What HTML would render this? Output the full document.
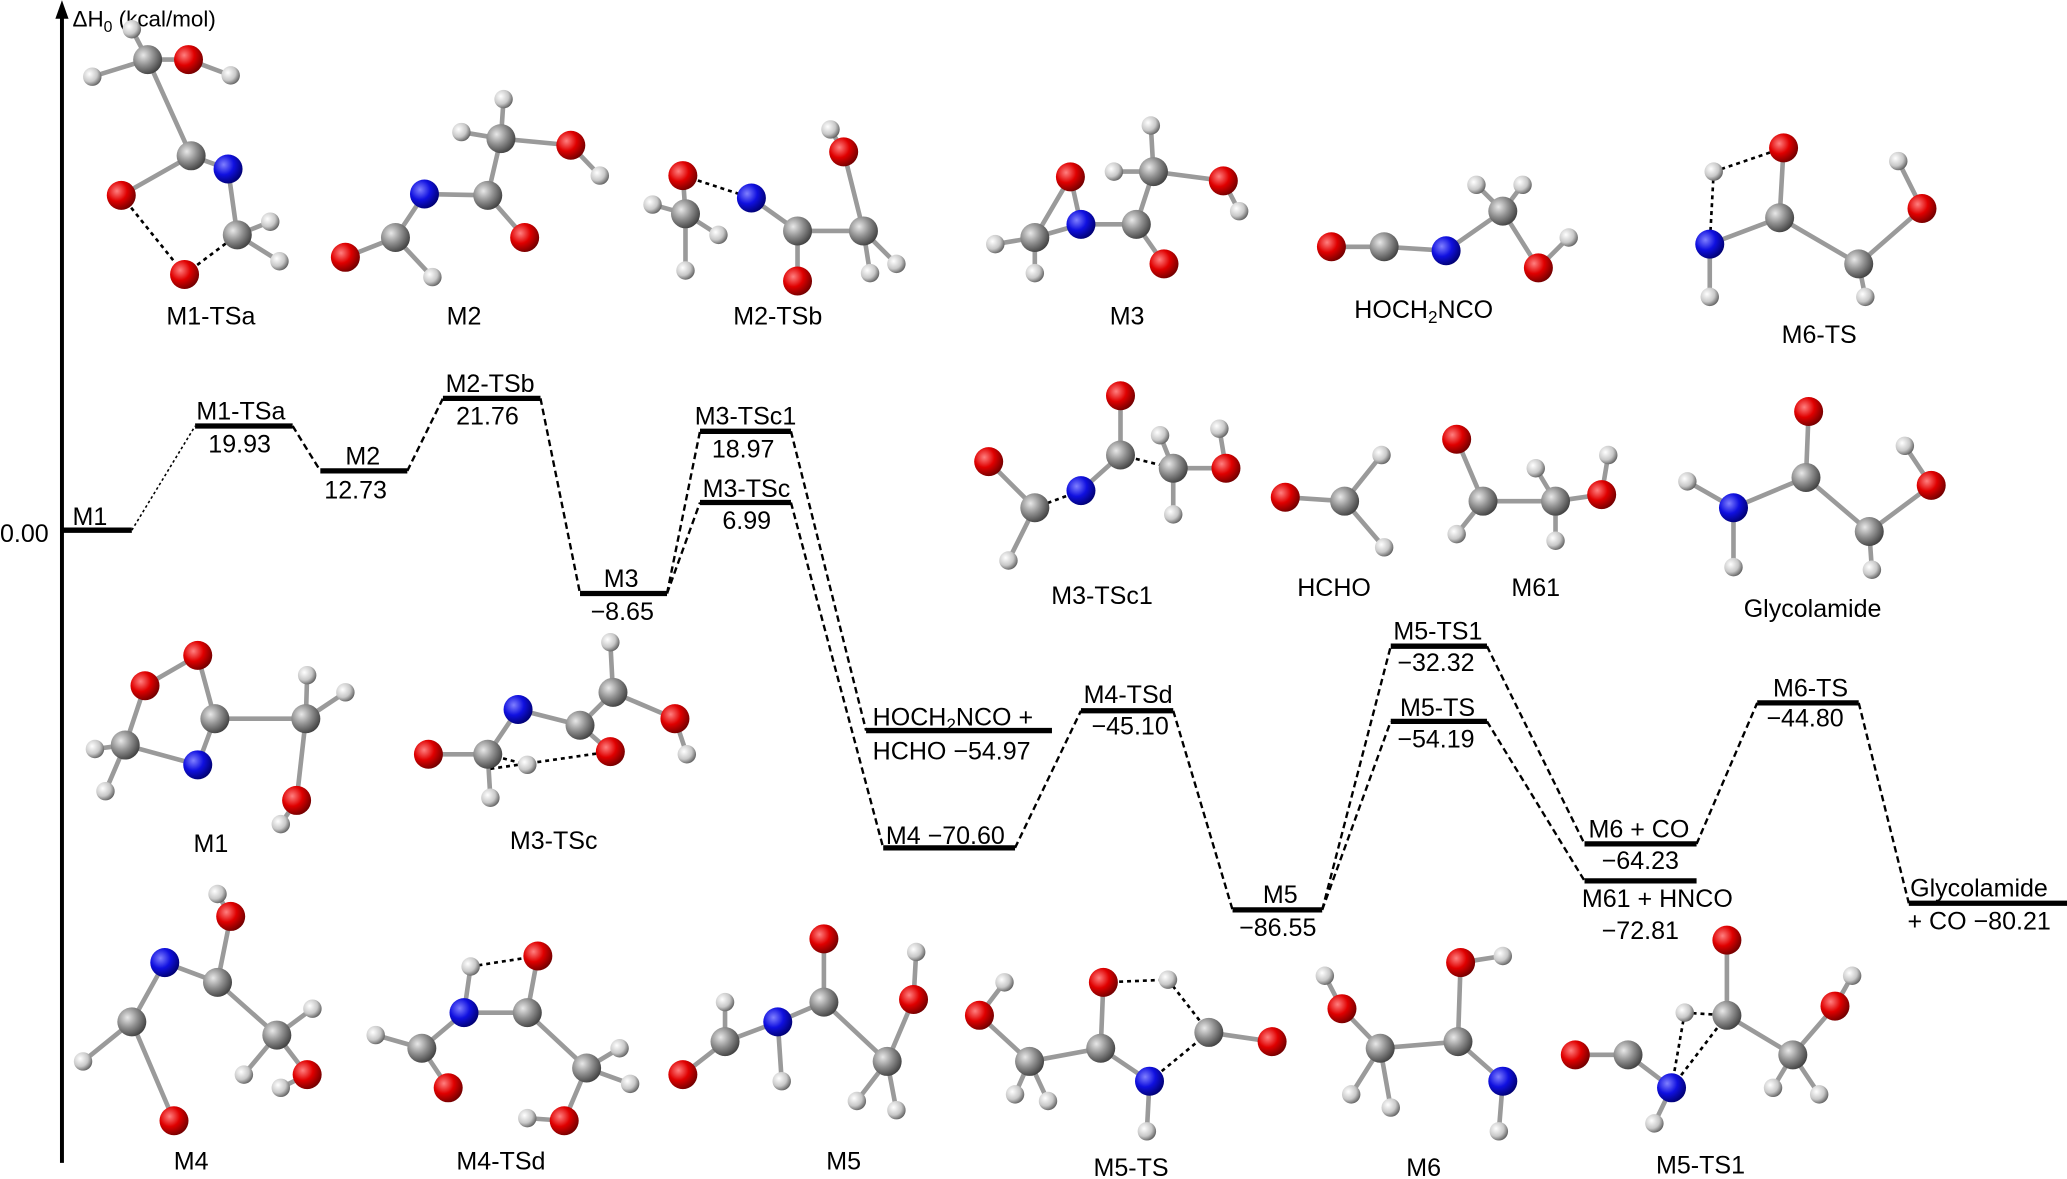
<!DOCTYPE html>
<html><head><meta charset="utf-8"><style>
html,body{margin:0;padding:0;background:#fff}
svg{display:block}
text{font-family:"Liberation Sans Narrow","Liberation Sans",sans-serif;fill:#000}
</style></head><body>
<svg width="2067" height="1179" viewBox="0 0 1568 894" xmlns="http://www.w3.org/2000/svg">
<defs>
<radialGradient id="gr" cx="0.35" cy="0.35" r="0.7"><stop offset="0" stop-color="#ff8080"/><stop offset="0.5" stop-color="#e00000"/><stop offset="1" stop-color="#700000"/></radialGradient>
<radialGradient id="gb" cx="0.35" cy="0.35" r="0.7"><stop offset="0" stop-color="#8080ff"/><stop offset="0.5" stop-color="#1010e0"/><stop offset="1" stop-color="#000070"/></radialGradient>
<radialGradient id="gc" cx="0.35" cy="0.35" r="0.7"><stop offset="0" stop-color="#e8e8e8"/><stop offset="0.5" stop-color="#909090"/><stop offset="1" stop-color="#404040"/></radialGradient>
<radialGradient id="gh" cx="0.35" cy="0.35" r="0.7"><stop offset="0" stop-color="#ffffff"/><stop offset="0.6" stop-color="#c8c8c8"/><stop offset="1" stop-color="#606060"/></radialGradient>
<symbol id="O" overflow="visible"><circle r="11" fill="url(#gr)"/></symbol>
<symbol id="N" overflow="visible"><circle r="11" fill="url(#gb)"/></symbol>
<symbol id="C" overflow="visible"><circle r="11" fill="url(#gc)"/></symbol>
<symbol id="H" overflow="visible"><circle r="7" fill="url(#gh)"/></symbol>
</defs>

<!-- axis -->
<line x1="47" y1="12" x2="47" y2="882" stroke="#000" stroke-width="3"/>
<polygon points="47,0 42,14 52,14" fill="#000"/>
<text x="55" y="20" font-size="17">ΔH<tspan font-size="12" dy="4">0</tspan><tspan dy="-4"> (kcal/mol)</tspan></text>
<text x="0" y="411" font-size="19">0.00</text>

<!-- levels -->
<g stroke="#000" stroke-width="4">
<line x1="48" y1="402" x2="100" y2="402"/>
<line x1="148" y1="323" x2="222" y2="323"/>
<line x1="243" y1="357" x2="309" y2="357"/>
<line x1="336" y1="302" x2="410" y2="302"/>
<line x1="440" y1="450" x2="506" y2="450"/>
<line x1="531" y1="327" x2="600" y2="327"/>
<line x1="531" y1="381" x2="600" y2="381"/>
<line x1="657" y1="554" x2="798" y2="554"/>
<line x1="670" y1="643" x2="770" y2="643"/>
<line x1="820" y1="539" x2="890" y2="539"/>
<line x1="935" y1="690" x2="1003" y2="690"/>
<line x1="1055" y1="490" x2="1128" y2="490"/>
<line x1="1055" y1="547" x2="1128" y2="547"/>
<line x1="1202" y1="640" x2="1287" y2="640"/>
<line x1="1202" y1="668" x2="1287" y2="668"/>
<line x1="1333" y1="533" x2="1410" y2="533"/>
<line x1="1448" y1="685" x2="1568" y2="685"/>
</g>
<!-- connectors -->
<line x1="100" y1="402" x2="148" y2="323" stroke="#000" stroke-width="1.2" stroke-dasharray="2,2"/>
<g stroke="#000" stroke-width="1.8" stroke-dasharray="5,3" fill="none">
<line x1="222" y1="323" x2="243" y2="357"/>
<line x1="309" y1="357" x2="336" y2="302"/>
<line x1="410" y1="302" x2="440" y2="450"/>
<line x1="506" y1="450" x2="531" y2="327"/>
<line x1="506" y1="450" x2="531" y2="381"/>
<line x1="600" y1="327" x2="657" y2="554"/>
<line x1="600" y1="381" x2="670" y2="643"/>
<line x1="770" y1="643" x2="820" y2="539"/>
<line x1="890" y1="539" x2="935" y2="690"/>
<line x1="1003" y1="690" x2="1055" y2="490"/>
<line x1="1003" y1="690" x2="1055" y2="547"/>
<line x1="1128" y1="490" x2="1202" y2="640"/>
<line x1="1128" y1="547" x2="1202" y2="668"/>
<line x1="1287" y1="640" x2="1333" y2="533"/>
<line x1="1410" y1="533" x2="1448" y2="685"/>
</g>
<!-- level labels -->
<g font-size="19">
<text x="55" y="398">M1</text>
<text x="149" y="318">M1-TSa</text><text x="158" y="343">19.93</text>
<text x="262" y="352">M2</text><text x="246" y="378">12.73</text>
<text x="338" y="297">M2-TSb</text><text x="346" y="322">21.76</text>
<text x="458" y="445">M3</text><text x="448" y="470">−8.65</text>
<text x="527" y="322">M3-TSc1</text><text x="540" y="347">18.97</text>
<text x="533" y="377">M3-TSc</text><text x="548" y="401">6.99</text>
<text x="662" y="550">HOCH<tspan font-size="13" dy="4">2</tspan><tspan dy="-4">NCO +</tspan></text>
<text x="662" y="576">HCHO −54.97</text>
<text x="672" y="640">M4 −70.60</text>
<text x="822" y="533">M4-TSd</text><text x="828" y="557">−45.10</text>
<text x="958" y="685">M5</text><text x="940" y="710">−86.55</text>
<text x="1057" y="485">M5-TS1</text><text x="1060" y="509">−32.32</text>
<text x="1062" y="543">M5-TS</text><text x="1060" y="567">−54.19</text>
<text x="1205" y="635">M6 + CO</text><text x="1215" y="659">−64.23</text>
<text x="1200" y="688">M61 + HNCO</text><text x="1215" y="712">−72.81</text>
<text x="1345" y="528">M6-TS</text><text x="1340" y="551">−44.80</text>
<text x="1449" y="680">Glycolamide</text><text x="1447" y="705">+ CO −80.21</text>
</g>
<!-- molecule labels -->
<g font-size="19" text-anchor="middle">
<text x="160" y="246">M1-TSa</text><text x="352" y="246">M2</text><text x="590" y="246">M2-TSb</text>
<text x="855" y="246">M3</text>
<text x="1080" y="241">HOCH<tspan font-size="13" dy="4">2</tspan><tspan dy="-4">NCO</tspan></text>
<text x="1380" y="260">M6-TS</text><text x="836" y="458">M3-TSc1</text><text x="1012" y="452">HCHO</text>
<text x="1165" y="452">M61</text><text x="1375" y="468">Glycolamide</text>
<text x="160" y="646">M1</text><text x="420" y="644">M3-TSc</text>
<text x="145" y="887">M4</text><text x="380" y="887">M4-TSd</text><text x="640" y="887">M5</text>
<text x="858" y="892">M5-TS</text><text x="1080" y="892">M6</text><text x="1290" y="890">M5-TS1</text>
</g>

<!-- bonds -->
<g stroke="#9a9a9a" stroke-width="3.5" stroke-linecap="round">
<!-- M1-TSa -->
<path d="M112,45L143,45M112,45L70,58M112,45L100,22M143,45L175,57M112,45L145,118M145,118L92,148M145,118L173,128M173,128L180,178M180,178L205,168M180,178L212,198"/>
<!-- M2 -->
<path d="M300,180L262,195M300,180L328,210M300,180L322,147M322,147L370,148M370,148L398,180M370,148L380,105M380,105L382,75M380,105L350,100M380,105L433,110M433,110L455,133"/>
<!-- M2-TSb -->
<path d="M518,133L520,162M520,162L495,155M520,162L520,205M520,162L545,178M570,150L605,175M605,175L605,213M605,175L655,175M655,175L640,115M640,115L630,98M655,175L680,200M655,175L660,207"/>
<!-- M3 -->
<path d="M812,134L820,170M812,134L785,180M820,170L785,180M785,180L755,185M785,180L785,207M820,170L862,170M862,170L883,200M862,170L875,130M875,130L873,95M875,130L845,130M875,130L928,137M928,137L940,160"/>
<!-- HOCH2NCO -->
<path d="M1010,187L1050,187M1050,187L1097,190M1097,190L1140,160M1140,160L1120,140M1140,160L1155,140M1140,160L1167,203M1167,203L1190,180"/>
<!-- M6-TS -->
<path d="M1353,112L1350,165M1350,165L1297,185M1297,185L1297,225M1350,165L1410,200M1410,200L1415,225M1410,200L1458,158M1458,158L1440,122"/>
<!-- M3-TSc1 -->
<path d="M850,300L850,345M850,345L820,372M785,385L750,350M785,385L765,425M890,355L880,330M890,355L930,355M930,355L925,325M890,355L890,390"/>
<!-- HCHO -->
<path d="M975,377L1020,380M1020,380L1048,345M1020,380L1050,415"/>
<!-- M61 -->
<path d="M1105,333L1125,380M1125,380L1180,380M1125,380L1105,405M1180,380L1165,355M1180,380L1180,410M1180,380L1215,375M1215,375L1220,345"/>
<!-- Glycolamide -->
<path d="M1372,312L1370,362M1370,362L1315,385M1315,385L1280,365M1315,385L1315,430M1370,362L1418,403M1418,403L1420,432M1418,403L1465,368M1465,368L1445,338"/>
<!-- M1 -->
<path d="M110,520L150,497M110,520L95,565M150,497L163,545M163,545L150,580M150,580L95,565M95,565L72,568M95,565L80,600M163,545L232,545M232,545L233,512M232,545L262,525M232,545L225,607M225,607L213,625"/>
<!-- M3-TSc -->
<path d="M393,538L440,550M440,550L465,525M465,525L463,487M465,525L512,545M512,545L521,572M440,550L463,570M393,538L370,572M370,572L325,572M370,572L372,605"/>
<!-- M4 -->
<path d="M175,695L165,678M175,695L165,745M165,745L125,730M125,730L100,775M100,775L63,805M100,775L132,850M165,745L210,785M210,785L237,765M210,785L185,815M210,785L233,815M233,815L213,825"/>
<!-- M4-TSd -->
<path d="M408,725L400,768M400,768L352,768M352,768L357,733M352,768L320,795M320,795L285,785M320,795L340,825M400,768L445,810M445,810L470,795M445,810L478,822M445,810L428,850M428,850L400,848"/>
<!-- M5 -->
<path d="M625,712L625,760M625,760L590,775M590,775L593,820M590,775L550,790M550,790L550,760M550,790L518,815M625,760L673,805M673,805L693,758M693,758L695,722M673,805L650,835M673,805L680,842"/>
<!-- M5-TS -->
<path d="M837,745L835,795M835,795L872,820M872,820L870,858M835,795L781,805M781,805L743,770M743,770L762,745M781,805L770,830M781,805L795,835M917,783L965,790"/>
<!-- M6 -->
<path d="M1108,730L1140,725M1108,730L1106,790M1106,790L1140,820M1140,820L1137,858M1106,790L1047,795M1047,795L1018,765M1018,765L1005,740M1047,795L1025,830M1047,795L1055,840"/>
<!-- M5-TS1 -->
<path d="M1310,713L1310,770M1310,770L1360,800M1268,825L1255,852M1268,825L1235,800M1235,800L1195,800M1360,800L1345,825M1360,800L1380,830M1360,800L1392,763M1392,763L1405,740"/>
</g>
<!-- dashed interactions -->
<g stroke="#000" stroke-width="2" stroke-dasharray="3,3">
<path d="M92,148L140,208M140,208L180,178"/>
<path d="M518,133L570,150"/>
<path d="M820,372L785,385M850,345L890,355"/>
<path d="M372,583L463,570M370,572L400,580"/>
<path d="M357,733L408,725"/>
<path d="M837,745L886,743M886,743L917,783M872,820L917,783"/>
<path d="M1300,130L1353,112M1300,130L1297,185"/>
<path d="M1278,768L1310,770M1278,768L1268,825M1268,825L1310,770"/>
</g>

<!-- atoms -->
<!-- M1-TSa -->
<use href="#C" x="112" y="45"/><use href="#H" x="70" y="58"/><use href="#H" x="100" y="22"/><use href="#O" x="143" y="45"/><use href="#H" x="175" y="57"/>
<use href="#C" x="145" y="118"/><use href="#O" x="92" y="148"/><use href="#N" x="173" y="128"/><use href="#C" x="180" y="178"/><use href="#H" x="205" y="168"/><use href="#H" x="212" y="198"/><use href="#O" x="140" y="208"/>
<!-- M2 -->
<use href="#C" x="300" y="180"/><use href="#O" x="262" y="195"/><use href="#H" x="328" y="210"/><use href="#N" x="322" y="147"/><use href="#C" x="370" y="148"/><use href="#O" x="398" y="180"/><use href="#C" x="380" y="105"/><use href="#H" x="382" y="75"/><use href="#H" x="350" y="100"/><use href="#O" x="433" y="110"/><use href="#H" x="455" y="133"/>
<!-- M2-TSb -->
<use href="#O" x="518" y="133"/><use href="#C" x="520" y="162"/><use href="#H" x="495" y="155"/><use href="#H" x="520" y="205"/><use href="#H" x="545" y="178"/><use href="#N" x="570" y="150"/><use href="#C" x="605" y="175"/><use href="#O" x="605" y="213"/><use href="#C" x="655" y="175"/><use href="#O" x="640" y="115"/><use href="#H" x="630" y="98"/><use href="#H" x="680" y="200"/><use href="#H" x="660" y="207"/>
<!-- M3 -->
<use href="#O" x="812" y="134"/><use href="#C" x="785" y="180"/><use href="#H" x="755" y="185"/><use href="#H" x="785" y="207"/><use href="#N" x="820" y="170"/><use href="#C" x="862" y="170"/><use href="#O" x="883" y="200"/><use href="#C" x="875" y="130"/><use href="#H" x="873" y="95"/><use href="#H" x="845" y="130"/><use href="#O" x="928" y="137"/><use href="#H" x="940" y="160"/>
<!-- HOCH2NCO -->
<use href="#O" x="1010" y="187"/><use href="#C" x="1050" y="187"/><use href="#N" x="1097" y="190"/><use href="#C" x="1140" y="160"/><use href="#H" x="1120" y="140"/><use href="#H" x="1155" y="140"/><use href="#O" x="1167" y="203"/><use href="#H" x="1190" y="180"/>
<!-- M6-TS -->
<use href="#O" x="1353" y="112"/><use href="#H" x="1300" y="130"/><use href="#C" x="1350" y="165"/><use href="#N" x="1297" y="185"/><use href="#H" x="1297" y="225"/><use href="#C" x="1410" y="200"/><use href="#H" x="1415" y="225"/><use href="#O" x="1458" y="158"/><use href="#H" x="1440" y="122"/>
<!-- M3-TSc1 -->
<use href="#O" x="850" y="300"/><use href="#C" x="850" y="345"/><use href="#N" x="820" y="372"/><use href="#O" x="750" y="350"/><use href="#C" x="785" y="385"/><use href="#H" x="765" y="425"/><use href="#C" x="890" y="355"/><use href="#H" x="880" y="330"/><use href="#O" x="930" y="355"/><use href="#H" x="925" y="325"/><use href="#H" x="890" y="390"/>
<!-- HCHO -->
<use href="#O" x="975" y="377"/><use href="#C" x="1020" y="380"/><use href="#H" x="1048" y="345"/><use href="#H" x="1050" y="415"/>
<!-- M61 -->
<use href="#O" x="1105" y="333"/><use href="#C" x="1125" y="380"/><use href="#H" x="1105" y="405"/><use href="#C" x="1180" y="380"/><use href="#H" x="1165" y="355"/><use href="#H" x="1180" y="410"/><use href="#O" x="1215" y="375"/><use href="#H" x="1220" y="345"/>
<!-- Glycolamide -->
<use href="#O" x="1372" y="312"/><use href="#C" x="1370" y="362"/><use href="#N" x="1315" y="385"/><use href="#H" x="1280" y="365"/><use href="#H" x="1315" y="430"/><use href="#C" x="1418" y="403"/><use href="#H" x="1420" y="432"/><use href="#O" x="1465" y="368"/><use href="#H" x="1445" y="338"/>
<!-- M1 -->
<use href="#O" x="110" y="520"/><use href="#O" x="150" y="497"/><use href="#C" x="163" y="545"/><use href="#N" x="150" y="580"/><use href="#C" x="95" y="565"/><use href="#H" x="72" y="568"/><use href="#H" x="80" y="600"/><use href="#C" x="232" y="545"/><use href="#H" x="233" y="512"/><use href="#H" x="262" y="525"/><use href="#O" x="225" y="607"/><use href="#H" x="213" y="625"/>
<!-- M3-TSc -->
<use href="#N" x="393" y="538"/><use href="#H" x="463" y="487"/><use href="#C" x="465" y="525"/><use href="#C" x="440" y="550"/><use href="#O" x="512" y="545"/><use href="#H" x="521" y="572"/><use href="#O" x="463" y="570"/><use href="#O" x="325" y="572"/><use href="#C" x="370" y="572"/><use href="#H" x="400" y="580"/><use href="#H" x="372" y="605"/>
<!-- M4 -->
<use href="#H" x="165" y="678"/><use href="#O" x="175" y="695"/><use href="#C" x="165" y="745"/><use href="#N" x="125" y="730"/><use href="#C" x="100" y="775"/><use href="#H" x="63" y="805"/><use href="#O" x="132" y="850"/><use href="#C" x="210" y="785"/><use href="#H" x="237" y="765"/><use href="#H" x="185" y="815"/><use href="#O" x="233" y="815"/><use href="#H" x="213" y="825"/>
<!-- M4-TSd -->
<use href="#O" x="408" y="725"/><use href="#H" x="357" y="733"/><use href="#N" x="352" y="768"/><use href="#C" x="400" y="768"/><use href="#C" x="320" y="795"/><use href="#H" x="285" y="785"/><use href="#O" x="340" y="825"/><use href="#C" x="445" y="810"/><use href="#H" x="470" y="795"/><use href="#H" x="478" y="822"/><use href="#O" x="428" y="850"/><use href="#H" x="400" y="848"/>
<!-- M5 -->
<use href="#O" x="625" y="712"/><use href="#C" x="625" y="760"/><use href="#N" x="590" y="775"/><use href="#H" x="593" y="820"/><use href="#C" x="550" y="790"/><use href="#H" x="550" y="760"/><use href="#O" x="518" y="815"/><use href="#C" x="673" y="805"/><use href="#O" x="693" y="758"/><use href="#H" x="695" y="722"/><use href="#H" x="650" y="835"/><use href="#H" x="680" y="842"/>
<!-- M5-TS -->
<use href="#O" x="837" y="745"/><use href="#H" x="886" y="743"/><use href="#C" x="835" y="795"/><use href="#N" x="872" y="820"/><use href="#H" x="870" y="858"/><use href="#C" x="781" y="805"/><use href="#O" x="743" y="770"/><use href="#H" x="762" y="745"/><use href="#H" x="770" y="830"/><use href="#H" x="795" y="835"/><use href="#C" x="917" y="783"/><use href="#O" x="965" y="790"/>
<!-- M6 -->
<use href="#O" x="1108" y="730"/><use href="#H" x="1140" y="725"/><use href="#C" x="1106" y="790"/><use href="#N" x="1140" y="820"/><use href="#H" x="1137" y="858"/><use href="#C" x="1047" y="795"/><use href="#O" x="1018" y="765"/><use href="#H" x="1005" y="740"/><use href="#H" x="1025" y="830"/><use href="#H" x="1055" y="840"/>
<!-- M5-TS1 -->
<use href="#O" x="1310" y="713"/><use href="#C" x="1310" y="770"/><use href="#H" x="1278" y="768"/><use href="#N" x="1268" y="825"/><use href="#H" x="1255" y="852"/><use href="#C" x="1235" y="800"/><use href="#O" x="1195" y="800"/><use href="#C" x="1360" y="800"/><use href="#H" x="1345" y="825"/><use href="#H" x="1380" y="830"/><use href="#O" x="1392" y="763"/><use href="#H" x="1405" y="740"/>
</svg>
</body></html>
